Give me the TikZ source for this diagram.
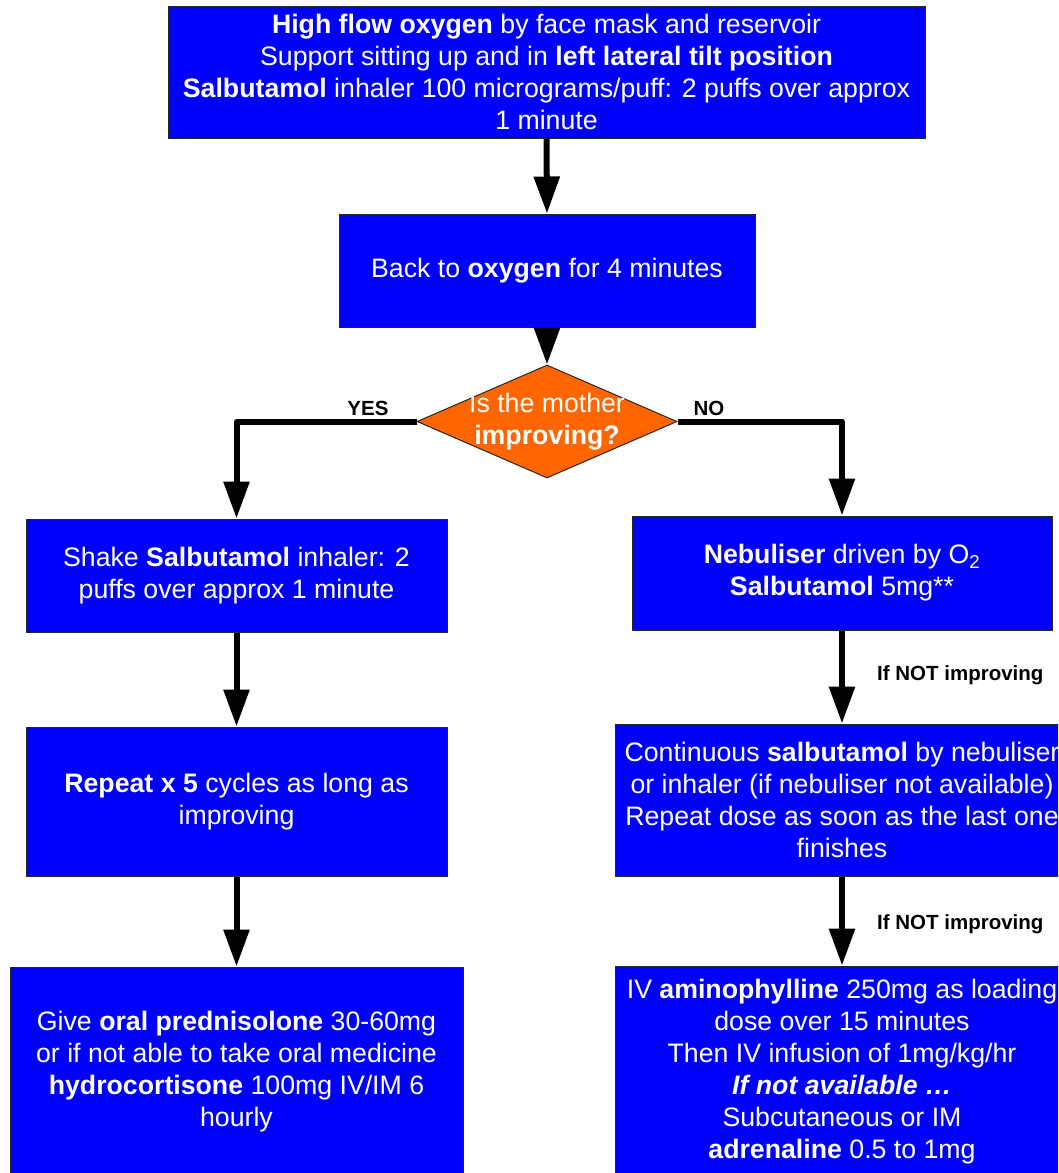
\documentclass[tikz,border=0pt]{standalone}
\usepackage{fontspec}
\setmainfont{Liberation Sans}
\usetikzlibrary{arrows.meta,shapes.geometric}
\definecolor{stepblue}{RGB}{0,0,255}
\definecolor{askorange}{RGB}{255,102,0}
\begin{document}
\begin{tikzpicture}[x=1pt,y=1pt,
    box/.style={draw=black!85,line width=1pt,fill=stepblue,text=white,align=center,
      font=\fontsize{26.7}{32}\selectfont,inner sep=0pt},
    ask/.style={diamond,draw=black!85,line width=1pt,fill=askorange,text=white,align=center,
      font=\fontsize{26.7}{32}\selectfont,shape aspect=2.3,inner sep=-10pt,
      minimum width=260pt,minimum height=113pt},
    flow/.style={line width=6pt,line join=round,-{Triangle[length=37pt,width=25pt]}},
    tag/.style={font=\bfseries\fontsize{20.5}{24}\selectfont,inner sep=0pt}]
    \useasboundingbox (0,0) rectangle (1058,-1173);
    \clip (0,0) rectangle (1058,-1173);
    \node[box,minimum width=757pt,minimum height=132pt] (start) at (546.5,-72)
      {\textbf{High flow oxygen} by face mask and reservoir\\
       Support sitting up and in \textbf{left lateral tilt position}\\
       \textbf{Salbutamol} inhaler 100 micrograms/puff: 2 puffs over approx\\
       1 minute};
    \node[box,minimum width=416pt,minimum height=113pt] (back) at (547,-270.5)
      {Back to \textbf{oxygen} for 4 minutes};
    \node[ask] (ask) at (547,-421.5) {Is the mother\\\textbf{improving?}};
    % yes side
    \node[box,minimum width=421pt,minimum height=113pt] (shake) at (236.5,-575.5)
      {Shake \textbf{Salbutamol} inhaler: 2\\puffs over approx 1 minute};
    \node[box,minimum width=421pt,minimum height=149pt] (again) at (236.5,-801.5)
      {\textbf{Repeat x 5} cycles as long as\\improving};
    \node[box,minimum width=453pt,minimum height=210pt] (steroid) at (236.5,-1072)
      {Give \textbf{oral prednisolone} 30-60mg\\
       or if not able to take oral medicine\\
       \textbf{hydrocortisone} 100mg IV/IM 6\\
       hourly};
    % no side
    \node[box,minimum width=420pt,minimum height=114pt] (nebu) at (842,-573)
      {\textbf{Nebuliser} driven by O\textsubscript{2}\\\textbf{Salbutamol} 5mg**};
    \node[box,minimum width=454pt,minimum height=152pt] (cont) at (842,-800)
      {Continuous \textbf{salbutamol} by nebuliser\\
       or inhaler (if nebuliser not available)\\
       Repeat dose as soon as the last one\\
       finishes};
    \node[box,minimum width=454pt,minimum height=212pt] (amino) at (842,-1072)
      {IV \textbf{aminophylline} 250mg as loading\\
       dose over 15 minutes\\
       Then IV infusion of 1mg/kg/hr\\
       \textbf{\textit{If not available \dots}}\\
       Subcutaneous or IM\\
       \textbf{adrenaline} 0.5 to 1mg};
    \node[tag,anchor=base] (yes) at (368,-415) {YES};
    \node[tag,anchor=base] (no) at (709,-415) {NO};
    \node[tag,anchor=base west] (worse) at (877,-680) {If NOT improving};
    \node[tag,anchor=base west] (worser) at (877,-929) {If NOT improving};
    \draw[flow] (start.south) -- (back.north);
    \draw[flow] (back.south) -- (ask.north);
    \draw[flow] (ask.west) -| (shake.north);
    \draw[flow] (ask.east) -| (nebu.north);
    \draw[flow] (shake.south) -- (again.north);
    \draw[flow] (again.south) -- (steroid.north);
    \draw[flow] (nebu.south) -- (cont.north);
    \draw[flow] (cont.south) -- (amino.north);
\end{tikzpicture}
\end{document}
